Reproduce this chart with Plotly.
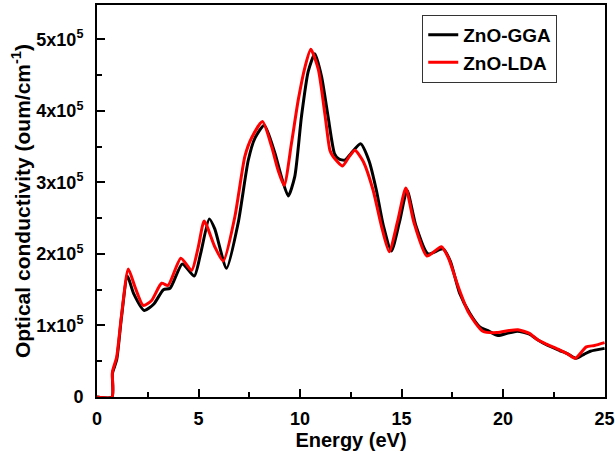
import plotly.graph_objects as go

# Energy (eV) and optical conductivity (units of 1e5 oum/cm^-1)
energy_gga = [0, 0.74, 0.76, 0.97, 1.2, 1.5, 1.8, 2.33, 2.8, 3.27, 3.6, 4.2, 4.79, 5.1, 5.53,
              5.8, 6.38, 6.95, 7.45, 7.78, 8.24, 8.76, 9.08, 9.42, 9.74, 10.07, 10.4, 10.73,
              11.06, 11.38, 11.7, 11.9, 12.2, 12.5, 12.98, 13.4, 13.76, 14.1, 14.5, 14.9, 15.27,
              15.7, 16.3, 17.04, 17.4, 17.86, 18.36, 18.85, 19.3, 19.75, 20.2, 20.7, 21.3, 21.7,
              22.13, 22.78, 23.2, 23.6, 24.0, 24.3, 25.0]
sigma_gga = [0, 0, 0.33, 0.52, 1.1, 1.69, 1.45, 1.21, 1.3, 1.50, 1.52, 1.86, 1.69, 2.0, 2.49,
             2.35, 1.80, 2.43, 3.31, 3.62, 3.80, 3.41, 3.08, 2.81, 3.08, 3.92, 4.55, 4.80,
             4.48, 3.92, 3.40, 3.33, 3.31, 3.40, 3.54, 3.30, 2.89, 2.40, 2.04, 2.45, 2.89,
             2.40, 2.00, 2.07, 1.90, 1.45, 1.17, 0.98, 0.92, 0.86, 0.89, 0.92, 0.88, 0.80,
             0.73, 0.65, 0.60, 0.54, 0.60, 0.64, 0.68]

energy_lda = [0, 0.74, 0.76, 0.97, 1.21, 1.54, 1.87, 2.28, 2.69, 3.18, 3.5, 4.13, 4.66, 4.99,
              5.28, 5.8, 6.22, 6.79, 7.28, 7.61, 8.15, 8.6, 8.92, 9.22, 9.58, 9.91, 10.25,
              10.53, 10.9, 11.24, 11.47, 11.63, 12.09, 12.4, 12.7, 13.1, 13.6, 14.0, 14.39,
              14.8, 15.21, 15.6, 16.25, 16.96, 17.3, 17.78, 18.3, 19.0, 19.7, 20.3, 20.73,
              21.3, 21.7, 22.13, 22.78, 23.2, 23.55, 24.1, 24.5, 25.0]
sigma_lda = [0, 0, 0.35, 0.56, 1.15, 1.79, 1.54, 1.28, 1.35, 1.59, 1.56, 1.94, 1.77, 2.10,
             2.46, 2.10, 1.90, 2.52, 3.36, 3.62, 3.85, 3.50, 3.17, 2.96, 3.55, 4.15, 4.62,
             4.86, 4.58, 3.92, 3.45, 3.36, 3.23, 3.35, 3.45, 3.30, 2.89, 2.40, 2.03,
             2.45, 2.92, 2.45, 1.97, 2.10, 1.95, 1.55, 1.18, 0.92, 0.90, 0.93, 0.94,
             0.89, 0.80, 0.74, 0.66, 0.60, 0.54, 0.70, 0.72, 0.76]

y_tick_vals = [0, 1, 2, 3, 4, 5]
y_tick_text = ["0", "1x10<sup>5</sup>", "2x10<sup>5</sup>", "3x10<sup>5</sup>",
               "4x10<sup>5</sup>", "5x10<sup>5</sup>"]
x_tick_vals = [0, 5, 10, 15, 20, 25]
x_tick_text = ["0", "5", "10", "15", "20", "25"]

scale = 1e5

fig = go.Figure()
fig.add_trace(go.Scatter(x=energy_gga, y=[v * scale for v in sigma_gga], mode="lines",
                         name="ZnO-GGA", line=dict(color="#000000", width=3, shape="spline",
                                                   smoothing=0.6)))
fig.add_trace(go.Scatter(x=energy_lda, y=[v * scale for v in sigma_lda], mode="lines",
                         name="ZnO-LDA", line=dict(color="#ff0000", width=3, shape="spline",
                                                   smoothing=0.6)))

font_family = "Liberation Sans, Arial, sans-serif"

fig.update_layout(
    width=615, height=454,
    margin=dict(l=97, r=10, t=5, b=57, autoexpand=False),
    paper_bgcolor="white", plot_bgcolor="white",
    font=dict(family=font_family, color="black"),
    showlegend=True,
    legend=dict(x=0.906, y=0.975, xanchor="right", yanchor="top",
                bgcolor="white", bordercolor="#333333", borderwidth=1,
                font=dict(size=19, family=font_family, weight="bold"),
                tracegroupgap=0, itemwidth=30),
)

fig.update_xaxes(
    range=[0, 25.02], tickvals=x_tick_vals, ticktext=x_tick_text, ticks="inside", ticklen=8,
    tickwidth=1.5, tickcolor="black", showline=True, linecolor="black", linewidth=2,
    mirror=True, showgrid=False, zeroline=False, automargin=False,
    tickfont=dict(size=18, family=font_family, weight="bold"),
    ticklabelstandoff=4, ticklabeloverflow="allow",
    minor=dict(dtick=2.5, ticks="inside", ticklen=5, tickwidth=1.5, tickcolor="black"),
    title=dict(text="Energy (eV)", font=dict(size=20, family=font_family, weight="bold"),
               standoff=2),
)
fig.update_yaxes(
    range=[0, 5.48e5], tickvals=[v * scale for v in y_tick_vals], ticktext=y_tick_text,
    ticks="inside", ticklen=8, tickwidth=1.5, tickcolor="black",
    showline=True, linecolor="black", linewidth=2, mirror=True,
    showgrid=False, zeroline=False, automargin=False,
    tickfont=dict(size=18, family=font_family, weight="bold"),
    ticklabelstandoff=8,
    minor=dict(dtick=0.5e5, ticks="inside", ticklen=5, tickwidth=1.5, tickcolor="black"),
    title=dict(text="Optical conductivity (oum/cm<sup>-1</sup>)",
               font=dict(size=21, family=font_family, weight="bold"), standoff=0),
)

fig.write_html("out.html")
